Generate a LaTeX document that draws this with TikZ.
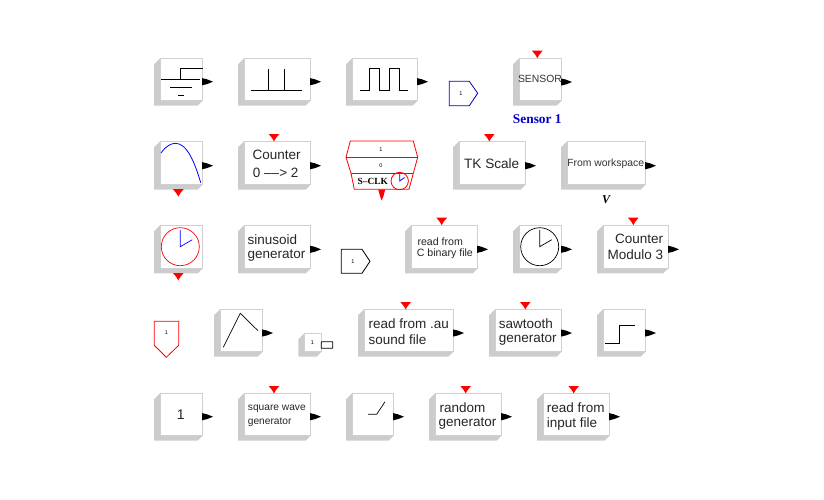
\documentclass[tikz,border=0pt]{standalone}
\usepackage{fontspec}
\setmainfont{Liberation Sans}
\newfontfamily\serifb{Liberation Serif}
\definecolor{blockshadow}{HTML}{CCCCCC}
\definecolor{blockedge}{HTML}{D0D0D0}
\definecolor{sblue}{HTML}{0000C8}
\tikzset{
  x=1pt,y=-1pt,
  big/.style={font=\fontsize{13.5}{16}\selectfont,inner sep=0,text=black!85},
  mid/.style={font=\fontsize{10.6}{13}\selectfont,inner sep=0,text=black!85},
  tiny/.style={font=\fontsize{5.5}{6}\selectfont,inner sep=0},
  glyph/.style={line width=0.7pt,black},
}
% block: left, top, right, bottom
\newcommand{\blk}[4]{%
  \fill[blockshadow] (#1,#2+6) -- (#1+6,#2) -- (#3,#2) -- (#3,#4-5) -- (#3-5,#4) -- (#1,#4) -- cycle;
  \filldraw[fill=white,draw=blockedge,line width=0.7pt] (#1+6,#2) rectangle (#3,#4-5);
}
% output arrow: tip starts at x,y
\newcommand{\outp}[2]{%
  \fill[black] (#1,#2-3.6) -- (#1+5,#2-2.4) -- (#1+11,#2) -- (#1+5,#2+2.4) -- (#1,#2+3.6) -- cycle;
}
% red event arrow pointing down: centre x, top y
\newcommand{\evt}[2]{%
  \fill[red] (#1-5.3,#2) -- (#1+5.3,#2) -- (#1+2,#2+4) -- (#1,#2+7.4) -- (#1-2,#2+4) -- cycle;
}
\newcommand{\clockf}[4]{% x y circle colour, hand colour
  \draw[#3,line width=0.7pt] (#1,#2) circle[radius=19];
  \draw[#4,line width=0.7pt] (#1,#2-16.7) -- (#1,#2) -- (#1+12,#2-7);
}
\begin{document}
\begin{tikzpicture}
\useasboundingbox (0,0) rectangle (824,499);
% ---- row 1
\blk{154}{58.3}{202.7}{105.7}\outp{202}{81.7}
\draw[glyph] (161,79.5) -- (200,79.5) (170,87.5) -- (192,87.5) (178,95) -- (184,95);
\draw[glyph] (180.5,79.5) -- (180.5,68.5) -- (202.7,68.5);
\blk{238}{58.3}{310.7}{105.7}\outp{310}{81.7}
\draw[glyph] (251,90.5) -- (302,90.5) (268.3,69) -- (268.3,90.5) (284.5,69) -- (284.5,90.5);
\blk{346}{58.3}{417.7}{105.7}\outp{417}{81.7}
\draw[glyph] (360,90.5) -- (369.5,90.5) -- (369.5,68.5) -- (379.5,68.5) -- (379.5,90.5) -- (389.5,90.5) -- (389.5,68.5) -- (399.5,68.5) -- (399.5,90.5) -- (408,90.5);
\draw[sblue,line width=0.8pt] (449.3,81.3) -- (469.3,81.3) -- (477.7,93.3) -- (469.3,105.7) -- (449.3,105.7) -- cycle;
\node[tiny] (n1) at (461,93.5) {1};
\blk{513}{58.3}{561.7}{105.7}\outp{561}{82}\evt{537.3}{50.7}
\node[font=\fontsize{10.4}{12}\selectfont,inner sep=0,text=black!80] (sensor) at (540,79) {SENSOR};
\node[font=\serifb\bfseries\fontsize{13.4}{15}\selectfont,inner sep=0,text=sblue] (sensorlab) at (537.3,118.7) {Sensor 1};
% ---- row 2
\blk{154}{141.3}{202.7}{189.7}\outp{202}{165.7}\evt{178.3}{189.2}
\draw[blue,line width=0.8pt] (161,153) .. controls (166,146) and (171,143.3) .. (175.7,143.3) .. controls (187,143.3) and (195,163) .. (200.7,182.7);
\blk{238}{141.3}{310.7}{189.7}\outp{310}{165.7}\evt{274}{134}
\node[big] (c1) at (276.7,155) {Counter};
\node[big] (c2) at (275.7,172.7) {0 ––> 2};
% S-CLK
\draw[red,line width=0.8pt] (350.3,141) -- (413.3,141) -- (417.7,157.3) -- (413.3,173.3) -- (409,189.3) -- (354.3,189.3) -- (351,173.3) -- (346,157.3) -- cycle;
\draw[red,line width=0.8pt] (346,157.3) -- (417.7,157.3) (351,173.3) -- (413.3,173.3);
\fill[red] (378.2,189.5) -- (385.2,189.5) -- (383.5,196) -- (381.7,200.5) -- (380,196) -- cycle;
\node[tiny] (s1) at (381,150) {1};
\node[tiny] (s0) at (381,166) {0};
\node[font=\serifb\bfseries\fontsize{9.4}{10}\selectfont,inner sep=0] (sclk) at (372.8,181.5) {S–CLK};
\draw[red,line width=0.8pt] (399.7,181) circle[radius=8.7];
\draw[blue,line width=0.8pt] (399.7,174) -- (399.7,181) -- (404.5,177.5);
\blk{453}{141.3}{525.7}{189.7}\outp{525}{165.7}\evt{489.3}{134}
\node[big,font=\fontsize{13.6}{16}\selectfont] (tk) at (491.7,164) {TK Scale};
\blk{561}{141.3}{645.7}{189.7}\outp{645}{165.7}
\node[font=\fontsize{10.4}{12}\selectfont,inner sep=0,text=black!80] (fw) at (605.7,163.7) {From workspace};
\node[font=\serifb\bfseries\itshape\fontsize{12}{14}\selectfont,inner sep=0] (v) at (606,200) {V};
% ---- row 3
\blk{154}{225.3}{202.7}{273.3}\evt{178.3}{273}
\clockf{180.3}{246.7}{red}{blue}
\blk{238}{225.3}{310.7}{273.3}\outp{310}{249.3}
\node[big,anchor=west] (sg1) at (247.3,239.3) {sinusoid};
\node[big,anchor=west] (sg2) at (247.3,255.7) {generator};
\draw[black,line width=0.8pt] (341.3,249.3) -- (362,249.3) -- (370,261.3) -- (362,273.3) -- (341.3,273.3) -- cycle;
\node[tiny] (n2) at (353,261.7) {1};
\blk{405}{225.3}{477.7}{273.3}\outp{477}{249.3}\evt{441.7}{217.7}
\node[mid,anchor=west] (cb1) at (417.3,242) {read from};
\node[mid,anchor=west] (cb2) at (416.7,254) {C binary file};
\blk{513}{225.3}{561.7}{273.3}\outp{561}{249.3}
\clockf{539.7}{246.7}{black}{black}
\blk{597}{225.3}{668.3}{273.3}\outp{668}{249.3}\evt{633.3}{217.7}
\node[big,anchor=east] (cm1) at (663.3,239.3) {Counter};
\node[big,anchor=east] (cm2) at (663.3,255) {Modulo 3};
% ---- row 4
\draw[red,line width=0.8pt] (154.3,321.3) -- (178.7,321.3) -- (178.7,345.3) -- (166.3,357.3) -- (154.3,345.3) -- cycle;
\node[tiny] (n3) at (166.3,332.7) {1};
\blk{214}{309.3}{262.7}{356.7}\outp{262}{333}
\draw[glyph] (223.3,347.3) -- (240.3,313.3) -- (258,330.7);
\blk{298.3}{333.3}{321.7}{356.7}
\node[tiny] (n4) at (312.3,343) {1};
\draw[black,line width=0.8pt,rounded corners=0.5pt] (321.3,341.7) rectangle (332.7,348.3);
\blk{358}{309.3}{453.3}{356.7}\outp{453}{333}\evt{405.7}{302}
\node[big,anchor=west] (au1) at (368.3,324) {read from .au};
\node[big,anchor=west] (au2) at (368.3,340) {sound file};
\blk{489}{309.3}{561.7}{356.7}\outp{561}{333}\evt{525.3}{302}
\node[big,anchor=west] (st1) at (498.7,324) {sawtooth};
\node[big,anchor=west] (st2) at (498.7,340) {generator};
\blk{597}{309.3}{645.7}{356.7}\outp{645}{333}
\draw[glyph] (605,343.3) -- (619.7,343.3) -- (619.7,325.3) -- (635,325.3);
% ---- row 5
\blk{154}{393.3}{202.7}{440.7}\outp{202}{416.7}
\node[big,font=\fontsize{14}{16}\selectfont] (one) at (180.7,415) {1};
\blk{238}{393.3}{310.7}{440.7}\outp{310}{416.7}\evt{274}{386}
\node[font=\fontsize{10.2}{12}\selectfont,inner sep=0,anchor=west,text=black!85] (sq1) at (247.7,409.3) {square wave};
\node[font=\fontsize{10.2}{12}\selectfont,inner sep=0,anchor=west,text=black!85] (sq2) at (247.7,422) {generator};
\blk{346}{393.3}{393.7}{440.7}\outp{393}{416.7}
\draw[glyph] (368,414.3) -- (376.7,414.3) -- (385,401.7);
\blk{429}{393.3}{501.7}{440.7}\outp{501}{416.7}\evt{465.7}{386}
\node[big,anchor=west] (r1) at (439.3,407.7) {random};
\node[big,anchor=west] (r2) at (438.5,424) {generator};
\blk{537}{393.3}{609.7}{440.7}\outp{609}{416.7}\evt{573.7}{386}
\node[big,anchor=west] (i1) at (546.7,407.7) {read from};
\node[big,anchor=west] (i2) at (546.7,424) {input file};
\end{tikzpicture}
\end{document}
